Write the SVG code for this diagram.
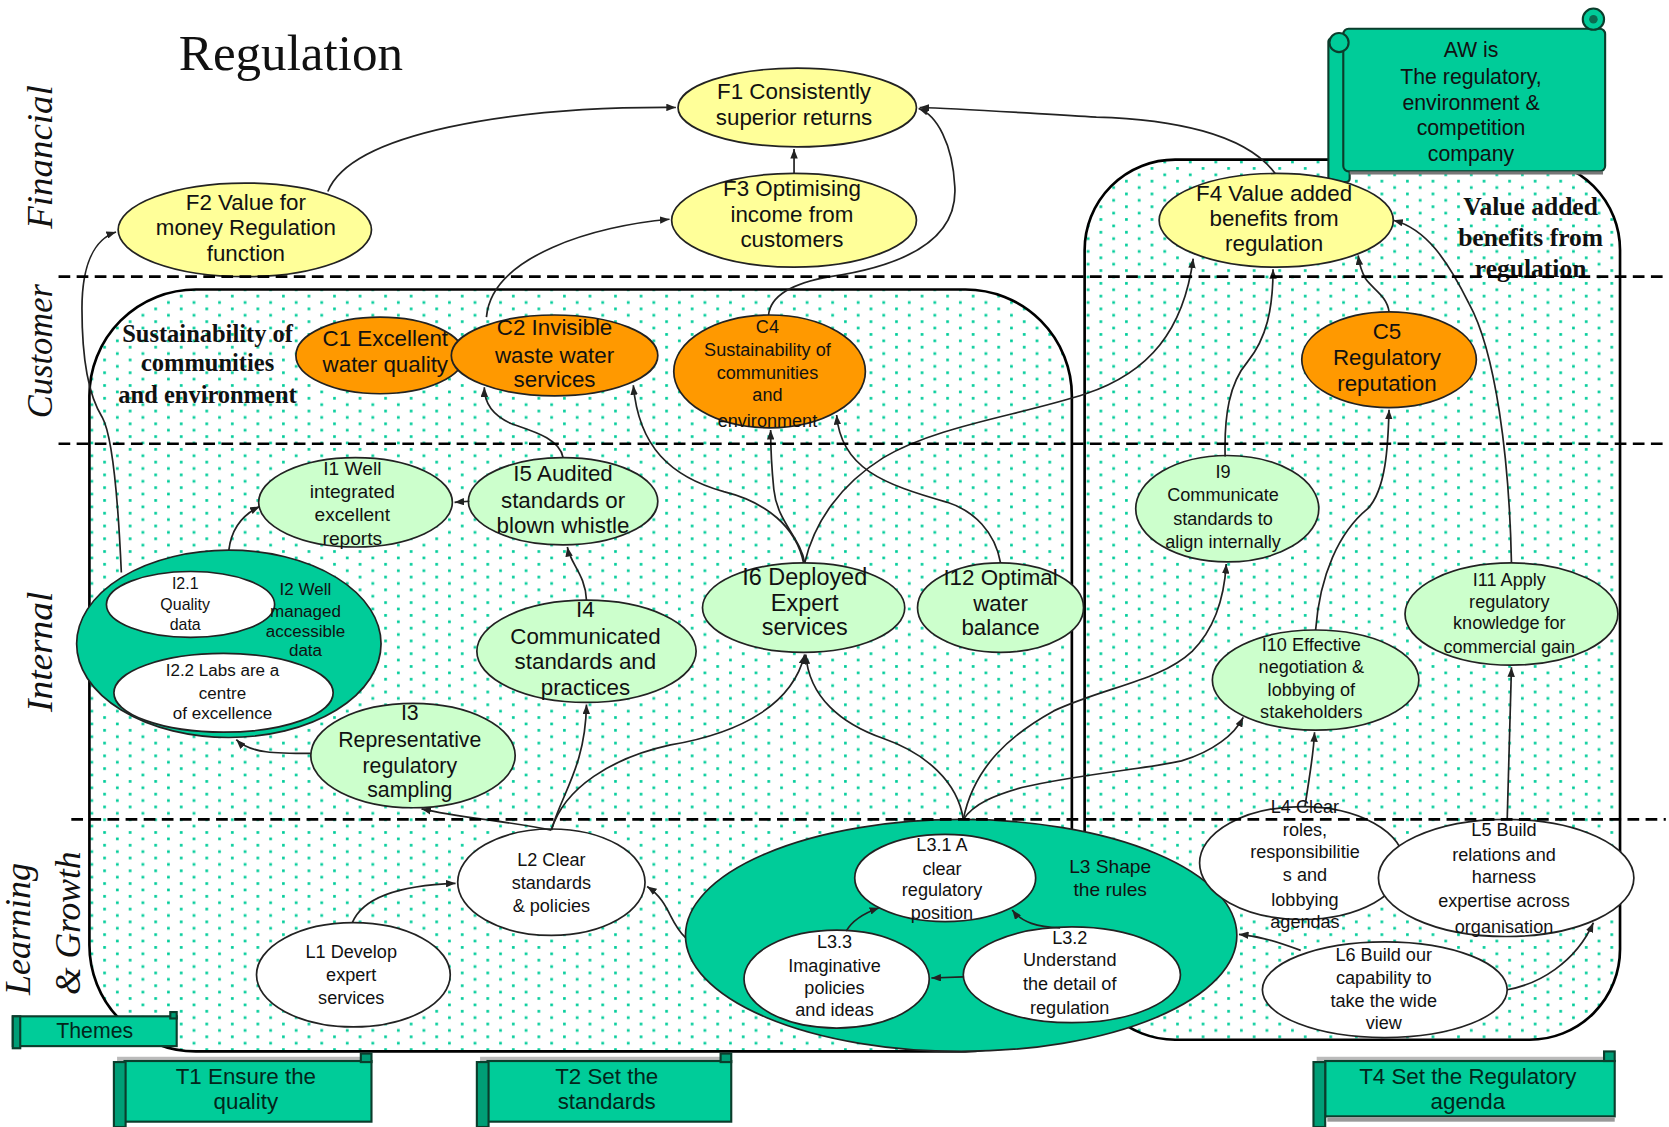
<svg xmlns="http://www.w3.org/2000/svg" width="1669" height="1127" viewBox="0 0 1669 1127">
<defs>
<pattern id="dots" patternUnits="userSpaceOnUse" width="24" height="12">
<rect width="24" height="12" fill="#fff"/>
<rect x="1" y="1" width="2.5" height="2.5" fill="#00CC99"/>
<rect x="13" y="7" width="2.5" height="2.5" fill="#00CC99"/>
</pattern>
<marker id="ah" markerUnits="userSpaceOnUse" markerWidth="9" markerHeight="7" refX="9" refY="3.5" orient="auto">
<path d="M0,0 L9,3.5 L0,7 z" fill="#222"/>
</marker>
<style>
.e{stroke:#222;stroke-width:1.6}
.y{fill:#FFFF99}.o{fill:#FF9900}.g{fill:#CCFFCC}.t{fill:#00CC99}.w{fill:#fff}
.tx{font-family:"Liberation Sans",Arial,sans-serif;text-anchor:middle;fill:#111}
.sf{font-family:"Liberation Serif","Times New Roman",serif;text-anchor:middle;font-weight:bold;fill:#111}
.vl{font-family:"Liberation Serif","Times New Roman",serif;font-style:italic;fill:#111;font-size:34px}
.c{fill:none;stroke:#222;stroke-width:1.6;marker-end:url(#ah)}
.box{fill:url(#dots);stroke:#000;stroke-width:2.5}
.dash{stroke:#000;stroke-width:2.5;stroke-dasharray:11 6}
.sc{fill:#00CC99;stroke:#0b3d2c;stroke-width:2}
.scd{fill:#009E76;stroke:#0b3d2c;stroke-width:2}
.st{font-family:"Liberation Sans",Arial,sans-serif;text-anchor:middle;fill:#03261b}
</style>
</defs>
<rect width="1669" height="1127" fill="#fff"/>
<g transform="scale(1.06441,1.06421)">

<g id="background">
<rect class="box" x="84" y="272" width="923" height="716" rx="100" ry="100"/>
<rect class="box" x="1019" y="150" width="503" height="827" rx="85" ry="85"/>
<text x="168" y="66" font-family="Liberation Serif,Times New Roman,serif" font-size="48" fill="#111">Regulation</text>
<text class="vl" transform="translate(49,215) rotate(-90)" textLength="135" lengthAdjust="spacingAndGlyphs">Financial</text>
<text class="vl" transform="translate(49,393) rotate(-90)" textLength="126" lengthAdjust="spacingAndGlyphs">Customer</text>
<text class="vl" transform="translate(49,669) rotate(-90)" textLength="113" lengthAdjust="spacingAndGlyphs">Internal</text>
<text class="vl" transform="translate(28,935) rotate(-90)" textLength="124" lengthAdjust="spacingAndGlyphs">Learning</text>
<text class="vl" transform="translate(75,935) rotate(-90)" textLength="135" lengthAdjust="spacingAndGlyphs">&amp; Growth</text>
<text class="sf" font-size="23"><tspan x="195" y="321">Sustainability of</tspan><tspan x="195" y="349">communities</tspan><tspan x="195" y="379">and environment</tspan></text>
<text class="sf" font-size="24"><tspan x="1438" y="202">Value added</tspan><tspan x="1438" y="231">benefits from</tspan><tspan x="1438" y="260">regulation</tspan></text>
</g>

<g id="AW">
<rect class="sc" x="1248" y="36" width="20" height="135" rx="3"/>
<rect class="sc" x="1262" y="27" width="246" height="134" rx="5"/>
<rect x="1268" y="161" width="238" height="3" fill="#777"/>
<circle class="sc" cx="1497" cy="18" r="10"/>
<circle cx="1497" cy="18" r="4" fill="#0b6b50"/>
<circle class="sc" cx="1258" cy="40" r="9"/>
<text class="tx" font-size="20" fill="#000"><tspan x="1382" y="54">AW is</tspan><tspan x="1382" y="79">The regulatory,</tspan><tspan x="1382" y="103">environment &amp;</tspan><tspan x="1382" y="127">competition</tspan><tspan x="1382" y="151">company</tspan></text>
</g>

<g id="F1"><ellipse class="e y" cx="749" cy="101" rx="112" ry="37"/><text class="tx" font-size="21"><tspan x="746" y="93">F1 Consistently</tspan><tspan x="746" y="117">superior returns</tspan></text></g>
<g id="F3"><ellipse class="e y" cx="746" cy="207" rx="115" ry="44"/><text class="tx" font-size="21"><tspan x="744" y="184">F3 Optimising</tspan><tspan x="744" y="209">income from</tspan><tspan x="744" y="232">customers</tspan></text></g>
<g id="F2"><ellipse class="e y" cx="230" cy="216" rx="119" ry="44"/><text class="tx" font-size="21"><tspan x="231" y="197">F2 Value for</tspan><tspan x="231" y="221">money Regulation</tspan><tspan x="231" y="245">function</tspan></text></g>
<g id="F4"><ellipse class="e y" cx="1199" cy="207" rx="110" ry="44"/><text class="tx" font-size="21"><tspan x="1197" y="189">F4 Value added</tspan><tspan x="1197" y="212">benefits from</tspan><tspan x="1197" y="236">regulation</tspan></text></g>

<g id="C1"><ellipse class="e o" cx="357" cy="334" rx="79" ry="36"/><text class="tx" font-size="21"><tspan x="362" y="325">C1 Excellent</tspan><tspan x="362" y="350">water quality</tspan></text></g>
<g id="C2"><ellipse class="e o" cx="521" cy="334" rx="97" ry="38"/><text class="tx" font-size="21"><tspan x="521" y="315">C2 Invisible</tspan><tspan x="521" y="341">waste water</tspan><tspan x="521" y="364">services</tspan></text></g>
<g id="C4"><ellipse class="e o" cx="723" cy="349" rx="90" ry="53"/><text class="tx" font-size="17"><tspan x="721" y="313">C4</tspan><tspan x="721" y="335">Sustainability of</tspan><tspan x="721" y="356">communities</tspan><tspan x="721" y="377">and</tspan><tspan x="721" y="401">environment</tspan></text></g>
<g id="C5"><ellipse class="e o" cx="1305" cy="338" rx="82" ry="45"/><text class="tx" font-size="21"><tspan x="1303" y="319">C5</tspan><tspan x="1303" y="343">Regulatory</tspan><tspan x="1303" y="367">reputation</tspan></text></g>

<g id="I1"><ellipse class="e g" cx="334" cy="472" rx="91" ry="42"/><text class="tx" font-size="18"><tspan x="331" y="446">I1 Well</tspan><tspan x="331" y="468">integrated</tspan><tspan x="331" y="490">excellent</tspan><tspan x="331" y="512">reports</tspan></text></g>
<g id="I5"><ellipse class="e g" cx="529" cy="471" rx="89" ry="41"/><text class="tx" font-size="21"><tspan x="529" y="452">I5 Audited</tspan><tspan x="529" y="477">standards or</tspan><tspan x="529" y="501">blown whistle</tspan></text></g>
<g id="I2"><ellipse class="e t" cx="215" cy="605" rx="143" ry="88"/></g>
<g id="I2.1"><ellipse class="e w" cx="179" cy="568" rx="79" ry="31"/><text class="tx" font-size="15"><tspan x="174" y="553">I2.1</tspan><tspan x="174" y="573">Quality</tspan><tspan x="174" y="592">data</tspan></text></g>
<g id="I2.2"><ellipse class="e w" cx="210" cy="651" rx="103" ry="37"/><text class="tx" font-size="16"><tspan x="209" y="635">I2.2 Labs are a</tspan><tspan x="209" y="657">centre</tspan><tspan x="209" y="676">of excellence</tspan></text></g>
<g id="I2-label"><text class="tx" font-size="16" fill="#03261b"><tspan x="287" y="559">I2 Well</tspan><tspan x="287" y="580">managed</tspan><tspan x="287" y="599">accessible</tspan><tspan x="287" y="616">data</tspan></text></g>
<g id="I3"><ellipse class="e g" cx="388" cy="710" rx="96" ry="49"/><text class="tx" font-size="20"><tspan x="385" y="677">I3</tspan><tspan x="385" y="702">Representative</tspan><tspan x="385" y="726">regulatory</tspan><tspan x="385" y="749">sampling</tspan></text></g>
<g id="I4"><ellipse class="e g" cx="551" cy="612" rx="103" ry="48"/><text class="tx" font-size="21"><tspan x="550" y="580">I4</tspan><tspan x="550" y="605">Communicated</tspan><tspan x="550" y="629">standards and</tspan><tspan x="550" y="653">practices</tspan></text></g>
<g id="I6"><ellipse class="e g" cx="755" cy="571" rx="95" ry="42"/><text class="tx" font-size="22"><tspan x="756" y="550">I6 Deployed</tspan><tspan x="756" y="574">Expert</tspan><tspan x="756" y="597">services</tspan></text></g>
<g id="I12"><ellipse class="e g" cx="940" cy="571" rx="78" ry="42"/><text class="tx" font-size="21"><tspan x="940" y="550">I12 Optimal</tspan><tspan x="940" y="574">water</tspan><tspan x="940" y="597">balance</tspan></text></g>
<g id="I9"><ellipse class="e g" cx="1153" cy="478" rx="86" ry="50"/><text class="tx" font-size="17"><tspan x="1149" y="449">I9</tspan><tspan x="1149" y="471">Communicate</tspan><tspan x="1149" y="493">standards to</tspan><tspan x="1149" y="515">align internally</tspan></text></g>
<g id="I10"><ellipse class="e g" cx="1236" cy="639" rx="97" ry="47"/><text class="tx" font-size="17"><tspan x="1232" y="612">I10 Effective</tspan><tspan x="1232" y="632">negotiation &amp;</tspan><tspan x="1232" y="654">lobbying of</tspan><tspan x="1232" y="675">stakeholders</tspan></text></g>
<g id="I11"><ellipse class="e g" cx="1420" cy="577" rx="100" ry="48"/><text class="tx" font-size="17"><tspan x="1418" y="551">I11 Apply</tspan><tspan x="1418" y="571">regulatory</tspan><tspan x="1418" y="591">knowledge for</tspan><tspan x="1418" y="614">commercial gain</tspan></text></g>

<g id="L1"><ellipse class="e w" cx="332" cy="916" rx="91" ry="49"/><text class="tx" font-size="17"><tspan x="330" y="900">L1 Develop</tspan><tspan x="330" y="922">expert</tspan><tspan x="330" y="943">services</tspan></text></g>
<g id="L2"><ellipse class="e w" cx="518" cy="829" rx="88" ry="50"/><text class="tx" font-size="17"><tspan x="518" y="814">L2 Clear</tspan><tspan x="518" y="835">standards</tspan><tspan x="518" y="857">&amp; policies</tspan></text></g>
<g id="L3"><ellipse class="e t" cx="903" cy="879" rx="259" ry="109"/><text class="tx" font-size="18" fill="#03261b"><tspan x="1043" y="820">L3 Shape</tspan><tspan x="1043" y="842">the rules</tspan></text></g>
<g id="L3.1"><ellipse class="e w" cx="888" cy="825" rx="85" ry="41"/><text class="tx" font-size="17"><tspan x="885" y="800">L3.1 A</tspan><tspan x="885" y="822">clear</tspan><tspan x="885" y="842">regulatory</tspan><tspan x="885" y="864">position</tspan></text></g>
<g id="L3.3"><ellipse class="e w" cx="786" cy="920" rx="87" ry="46"/><text class="tx" font-size="17"><tspan x="784" y="891">L3.3</tspan><tspan x="784" y="913">Imaginative</tspan><tspan x="784" y="934">policies</tspan><tspan x="784" y="955">and ideas</tspan></text></g>
<g id="L3.2"><ellipse class="e w" cx="1007" cy="916" rx="102" ry="45"/><text class="tx" font-size="17"><tspan x="1005" y="887">L3.2</tspan><tspan x="1005" y="908">Understand</tspan><tspan x="1005" y="930">the detail of</tspan><tspan x="1005" y="953">regulation</tspan></text></g>
<g id="L4"><ellipse class="e w" cx="1223" cy="811" rx="96" ry="53"/><text class="tx" font-size="17"><tspan x="1226" y="764">L4 Clear</tspan><tspan x="1226" y="786">roles,</tspan><tspan x="1226" y="806">responsibilitie</tspan><tspan x="1226" y="828">s and</tspan><tspan x="1226" y="851">lobbying</tspan><tspan x="1226" y="872">agendas</tspan></text></g>
<g id="L5"><ellipse class="e w" cx="1415" cy="825" rx="120" ry="55"/><text class="tx" font-size="17"><tspan x="1413" y="786">L5 Build</tspan><tspan x="1413" y="809">relations and</tspan><tspan x="1413" y="830">harness</tspan><tspan x="1413" y="852">expertise across</tspan><tspan x="1413" y="877">organisation</tspan></text></g>
<g id="L6"><ellipse class="e w" cx="1301" cy="930" rx="115" ry="45"/><text class="tx" font-size="17"><tspan x="1300" y="903">L6 Build our</tspan><tspan x="1300" y="925">capability to</tspan><tspan x="1300" y="946">take the wide</tspan><tspan x="1300" y="967">view</tspan></text></g>

<g id="Themes">
<rect class="sc" x="12" y="955" width="154" height="28"/>
<rect class="scd" x="12" y="955" width="7" height="30"/>
<rect class="scd" x="160" y="951" width="6" height="6"/>
<text class="st" x="89" y="975" font-size="20">Themes</text>
</g>
<g id="T1">
<rect x="110" y="993" width="236" height="4" fill="#bbb"/>
<rect class="sc" x="117" y="997" width="232" height="57"/>
<rect class="scd" x="107" y="998" width="11" height="61"/>
<rect class="scd" x="339" y="990" width="10" height="8"/>
<text class="st" font-size="21"><tspan x="231" y="1019">T1 Ensure the</tspan><tspan x="231" y="1042">quality</tspan></text>
</g>
<g id="T2">
<rect x="451" y="993" width="236" height="4" fill="#bbb"/>
<rect class="sc" x="458" y="997" width="229" height="57"/>
<rect class="scd" x="448" y="998" width="11" height="61"/>
<rect class="scd" x="677" y="990" width="10" height="8"/>
<text class="st" font-size="21"><tspan x="570" y="1019">T2 Set the</tspan><tspan x="570" y="1042">standards</tspan></text>
</g>
<g id="T4">
<rect x="1237" y="993" width="278" height="4" fill="#bbb"/>
<rect class="sc" x="1245" y="997" width="272" height="52"/>
<rect x="1247" y="1050" width="270" height="4" fill="#999"/>
<rect class="scd" x="1234" y="998" width="11" height="61"/>
<rect class="scd" x="1507" y="988" width="10" height="9"/>
<text class="st" font-size="21"><tspan x="1379" y="1019">T4 Set the Regulatory</tspan><tspan x="1379" y="1042">agenda</tspan></text>
</g>

<g id="connectors">
<path class="c" d="M308,180 C330,125 480,100 635,101"/>
<path class="c" d="M746,163 L746,140"/>
<path class="c" d="M457,298 C462,240 560,212 629,206"/>
<path class="c" d="M722,296 C724,278 745,266 780,260 C860,248 900,220 897,175 C895,135 880,108 863,102"/>
<path class="c" d="M1198,163 C1170,125 1100,112 1030,110 C960,106 900,102 864,101"/>
<path class="c" d="M114,538 C111,470 106,410 96,392 C82,370 77,330 77,290 C77,250 88,225 109,218"/>
<path class="c" d="M756,529 C765,490 790,455 830,430 C880,400 960,390 1020,370 C1080,350 1112,310 1121,243"/>
<path class="c" d="M1151,429 C1150,390 1155,360 1172,340 C1190,318 1196,290 1196,253"/>
<path class="c" d="M1305,293 C1303,278 1290,272 1283,262 C1279,255 1277,248 1276,240"/>
<path class="c" d="M1420,529 C1418,430 1405,330 1380,285 C1360,245 1340,215 1309,207"/>
<path class="c" d="M529,430 C526,412 500,405 480,398 C462,390 455,378 455,364"/>
<path class="c" d="M755,529 C748,495 720,472 680,462 C630,448 600,420 595,362"/>
<path class="c" d="M756,529 C752,505 730,490 727,460 C725,440 724,420 724,404"/>
<path class="c" d="M940,529 C935,500 915,480 890,472 C830,455 790,440 786,390"/>
<path class="c" d="M905,770 C900,735 870,708 830,694 C790,680 760,655 757,615"/>
<path class="c" d="M905,770 C915,720 950,690 990,668 C1040,645 1090,640 1120,612 C1140,592 1150,565 1152,530"/>
<path class="c" d="M905,770 C915,755 935,747 960,740 C1010,728 1080,722 1110,715 C1140,706 1160,690 1168,674"/>
<path class="c" d="M518,780 C530,740 575,712 630,700 C700,688 745,660 756,615"/>
<path class="c" d="M518,780 C528,745 550,720 551,662"/>
<path class="c" d="M518,780 C480,772 430,768 396,760"/>
<path class="c" d="M331,867 C340,845 370,832 428,830"/>
<path class="c" d="M644,881 C628,866 630,848 608,833"/>
<path class="c" d="M551,564 C550,540 536,530 533,514"/>
<path class="c" d="M441,471 L427,472"/>
<path class="c" d="M215,517 C217,500 225,485 244,476"/>
<path class="c" d="M292,708 C260,708 235,708 222,695"/>
<path class="c" d="M1236,592 C1240,540 1258,500 1285,478 C1302,460 1304,420 1305,385"/>
<path class="c" d="M1226,758 C1230,730 1234,710 1235,688"/>
<path class="c" d="M1416,770 L1420,627"/>
<path class="c" d="M1222,893 C1200,885 1185,880 1164,878"/>
<path class="c" d="M1416,930 C1445,925 1480,905 1497,867"/>
<path class="c" d="M795,875 C800,866 812,858 826,853"/>
<path class="c" d="M996,872 C975,871 960,867 951,855"/>
<path class="c" d="M905,918 L875,919"/>
</g>

<g id="dividers">
<line class="dash" x1="55" y1="260" x2="1565" y2="260"/>
<line class="dash" x1="55" y1="417" x2="1565" y2="417"/>
<line class="dash" x1="67" y1="770" x2="1565" y2="770"/>
</g>
</g>
</svg>
